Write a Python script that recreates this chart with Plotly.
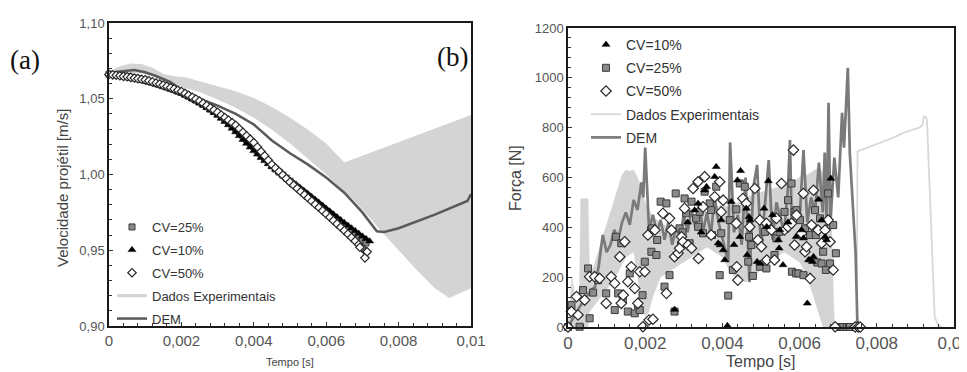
import plotly.graph_objects as go

# ================= (a) Velocity of projectile =================
t_grid_a = [round(i * 0.0001, 4) for i in range(72)]          # 0 .. 0.0071 s
t_grid_a10 = [round(i * 0.0001, 4) for i in range(73)]        # 0 .. 0.0072 s

vel_cv25 = [1.0662, 1.0660, 1.0657, 1.0654, 1.0650, 1.0646, 1.0642, 1.0637, 1.0632, 1.0627,
            1.0622, 1.0615, 1.0608, 1.0600, 1.0593, 1.0585, 1.0577, 1.0568, 1.0560, 1.0550,
            1.0541, 1.0529, 1.0517, 1.0504, 1.0491, 1.0478, 1.0463, 1.0448, 1.0432, 1.0416,
            1.0400, 1.0381, 1.0362, 1.0342, 1.0322, 1.0301, 1.0278, 1.0254, 1.0230, 1.0206,
            1.0182, 1.0156, 1.0131, 1.0106, 1.0082, 1.0058, 1.0037, 1.0016, 0.9996, 0.9976,
            0.9956, 0.9936, 0.9916, 0.9896, 0.9877, 0.9857, 0.9837, 0.9818, 0.9798, 0.9778,
            0.9758, 0.9738, 0.9718, 0.9698, 0.9678, 0.9659, 0.9640, 0.9621, 0.9602, 0.9583,
            0.9564, 0.9548]

vel_cv10 = [1.0663, 1.0661, 1.0658, 1.0655, 1.0651, 1.0647, 1.0643, 1.0638, 1.0633, 1.0627,
            1.0620, 1.0613, 1.0606, 1.0598, 1.0590, 1.0582, 1.0574, 1.0565, 1.0556, 1.0546,
            1.0536, 1.0524, 1.0512, 1.0499, 1.0486, 1.0472, 1.0457, 1.0441, 1.0425, 1.0408,
            1.0390, 1.0370, 1.0349, 1.0327, 1.0304, 1.0280, 1.0255, 1.0230, 1.0205, 1.0180,
            1.0156, 1.0133, 1.0111, 1.0090, 1.0070, 1.0051, 1.0033, 1.0015, 0.9997, 0.9979,
            0.9961, 0.9943, 0.9925, 0.9907, 0.9889, 0.9871, 0.9852, 0.9833, 0.9814, 0.9795,
            0.9776, 0.9757, 0.9738, 0.9719, 0.9700, 0.9682, 0.9664, 0.9646, 0.9628, 0.9610,
            0.9592, 0.9576, 0.9560]

vel_cv50 = [1.0660, 1.0658, 1.0655, 1.0652, 1.0648, 1.0645, 1.0641, 1.0637, 1.0633, 1.0629,
            1.0625, 1.0618, 1.0611, 1.0604, 1.0597, 1.0590, 1.0582, 1.0573, 1.0565, 1.0556,
            1.0548, 1.0535, 1.0523, 1.0510, 1.0498, 1.0485, 1.0470, 1.0455, 1.0440, 1.0425,
            1.0410, 1.0393, 1.0376, 1.0359, 1.0342, 1.0325, 1.0302, 1.0279, 1.0256, 1.0233,
            1.0210, 1.0181, 1.0152, 1.0123, 1.0094, 1.0065, 1.0042, 1.0019, 0.9996, 0.9973,
            0.9950, 0.9929, 0.9908, 0.9887, 0.9866, 0.9845, 0.9824, 0.9803, 0.9782, 0.9761,
            0.9740, 0.9718, 0.9696, 0.9674, 0.9652, 0.9630, 0.9607, 0.9584, 0.9561, 0.9538,
            0.9515, 0.9490]
t_cv50_end = [0.00693, 0.00707, 0.00713]
vel_cv50_end = [0.9520, 0.9450, 0.9490]

exp_a_up_t = [0.0, 0.0003, 0.0006, 0.0009, 0.0012, 0.0015, 0.0018, 0.0021, 0.0025, 0.0030,
              0.0035, 0.0040, 0.0045, 0.0050, 0.0055, 0.0060, 0.0065, 0.0100]
exp_a_up_v = [1.0680, 1.0715, 1.0732, 1.0730, 1.0705, 1.0665, 1.0648, 1.0642, 1.0615, 1.0585,
              1.0550, 1.0505, 1.0445, 1.0375, 1.0295, 1.0205, 1.0080, 1.0393]
exp_a_lo_t = [0.0, 0.0003, 0.0006, 0.0009, 0.0012, 0.0015, 0.0018, 0.0021, 0.0025, 0.0030,
              0.0035, 0.0040, 0.0045, 0.0050, 0.0055, 0.0060, 0.0065, 0.0070, 0.0075, 0.0080,
              0.0085, 0.0090, 0.0094, 0.0100]
exp_a_lo_v = [1.0640, 1.0660, 1.0670, 1.0668, 1.0650, 1.0610, 1.0590, 1.0570, 1.0545, 1.0495,
              1.0440, 1.0375, 1.0295, 1.0205, 1.0105, 1.0000, 0.9890, 0.9770, 0.9630, 0.9500,
              0.9370, 0.9250, 0.9185, 0.9250]

dem_a_t = [0.0, 0.0003, 0.0007, 0.0010, 0.0013, 0.0017, 0.0020, 0.0025, 0.0030, 0.0035,
           0.0040, 0.0045, 0.0050, 0.0055, 0.0060, 0.0065, 0.0070, 0.0074, 0.0076, 0.0080,
           0.0090, 0.0099, 0.0100]
dem_a_v = [1.0665, 1.0680, 1.0690, 1.0675, 1.0650, 1.0610, 1.0560, 1.0500, 1.0455, 1.0400,
           1.0330, 1.0225, 1.0140, 1.0065, 0.9980, 0.9880, 0.9750, 0.9625, 0.9620, 0.9645,
           0.9735, 0.9825, 0.9870]

# ================= (b) Force =================
cv10_ms = [2.76, 3.28, 3.37, 3.54, 3.59, 3.80, 3.84, 3.89, 3.94, 3.97, 4.02, 4.06, 4.13, 4.23,
           4.39, 4.45, 4.47, 4.62, 4.64, 4.69, 4.72, 4.90, 4.98, 5.08, 5.15, 5.19, 5.45, 5.47,
           5.49, 5.57, 5.91, 6.05, 6.10, 6.20, 6.23, 6.27, 6.33, 6.36, 6.49, 6.57, 6.66, 6.70,
           6.81, 3.10, 3.45, 4.30, 5.30, 5.70]
cv10_f = [70, 469, 496, 549, 563, 603, 643, 336, 329, 429, 309, 269, 5, 503,
          589, 362, 627, 476, 289, 442, 429, 262, 255, 476, 402, 586, 349, 316,
          389, 249, 362, 389, 356, 95, 269, 269, 262, 282, 512, 429, 362, 349,
          596, 420, 380, 330, 450, 420]

cv25_ms = [0.00, 0.30, 0.09, 0.39, 0.52, 0.56, 0.65, 0.78, 0.99, 1.21, 1.24, 1.30, 1.38, 1.42,
           1.55, 1.60, 1.73, 1.81, 1.86, 1.93, 1.99, 2.15, 2.16, 2.18, 2.29, 2.31, 2.40, 2.50,
           2.55, 2.63, 2.76, 2.79, 2.89, 2.93, 2.97, 3.02, 3.06, 3.15, 3.20, 3.32, 3.37, 3.41,
           3.50, 3.54, 3.67, 3.71, 3.73, 3.84, 3.93, 3.97, 4.15, 4.19, 4.27, 4.36, 4.45, 4.58,
           4.67, 4.69, 4.75, 4.79, 4.97, 5.10, 5.14, 5.35, 5.40, 5.48, 5.61, 5.70, 5.79, 5.80,
           5.87, 5.91, 5.92, 5.97, 6.01, 6.10, 6.14, 6.27, 6.40, 6.42, 6.46, 6.53, 6.57, 6.61,
           6.68, 6.74, 6.79, 6.87, 6.94, 7.05, 7.13, 7.22, 7.31, 7.52]
cv25_f = [0, 1, 88, 148, 235, 35, 138, 188, 135, 68, 362, 135, 336, 108,
          62, 215, 55, 88, 68, 128, 262, 389, 302, 396, 289, 349, 503, 162,
          496, 208, 62, 536, 396, 329, 380, 516, 456, 336, 503, 436, 402, 462,
          376, 543, 496, 469, 369, 563, 208, 376, 126, 429, 229, 472, 576, 563,
          262, 362, 329, 205, 242, 382, 235, 289, 356, 382, 462, 509, 576, 222,
          462, 215, 469, 215, 429, 208, 396, 369, 469, 369, 259, 436, 255, 302,
          229, 536, 255, 409, 296, 0, 0, 0, 0, 0]

cv50_ms = [0.00, 0.09, 0.22, 0.26, 0.43, 0.56, 0.69, 0.82, 0.99, 1.12, 1.21, 1.34, 1.38, 1.43,
           1.47, 1.55, 1.64, 1.73, 1.81, 1.86, 1.94, 1.99, 2.07, 2.10, 2.20, 2.25, 2.46, 2.55,
           2.63, 2.68, 2.76, 2.85, 2.89, 2.94, 2.98, 3.02, 3.11, 3.20, 3.24, 3.37, 3.38, 3.50,
           3.54, 3.71, 3.80, 3.93, 3.97, 4.02, 4.36, 4.37, 4.40, 4.53, 4.62, 4.71, 4.84, 4.92,
           4.97, 5.01, 5.14, 5.15, 5.27, 5.35, 5.40, 5.53, 5.61, 5.70, 5.79, 5.84, 5.87, 5.92,
           6.05, 6.10, 6.14, 6.18, 6.27, 6.31, 6.36, 6.48, 6.57, 6.66, 6.74, 6.79, 6.87, 6.92,
           7.44, 7.52, 7.57]
cv50_f = [0, 62, 122, 48, 108, 202, 202, 195, 95, 202, 175, 282, 95, 128,
          342, 182, 242, 155, 95, 222, 1, 222, 369, 28, 31, 389, 456, 135,
          436, 389, 282, 296, 316, 362, 342, 476, 329, 316, 556, 583, 275, 482,
          603, 369, 523, 583, 462, 509, 416, 242, 188, 516, 496, 402, 556, 349,
          429, 322, 416, 269, 389, 269, 436, 576, 389, 402, 416, 710, 329, 449,
          376, 536, 302, 322, 195, 409, 549, 389, 336, 389, 429, 342, 229, 1,
          0, 0, 0]

exp_b_up_t = [0.0, 0.0001, 0.0002, 0.0003, 0.00033, 0.00052, 0.00056, 0.0007, 0.0009, 0.0011,
              0.0013, 0.0014, 0.0015, 0.0016, 0.0017, 0.0018, 0.0019, 0.0020, 0.0022, 0.0024,
              0.0026, 0.0028, 0.0030, 0.0032, 0.0034, 0.0036, 0.0038, 0.0040, 0.0042, 0.0044,
              0.0046, 0.0048, 0.0050, 0.0052, 0.0054, 0.0056, 0.0058, 0.0060, 0.0062, 0.0064,
              0.0065, 0.0066, 0.0067, 0.0068, 0.0069]
exp_b_up_v = [0, 200, 100, 160, 515, 515, 200, 260, 360, 460,
              560, 610, 630, 625, 630, 600, 560, 500, 440, 420,
              400, 390, 420, 430, 450, 470, 480, 490, 480, 500,
              520, 530, 540, 550, 560, 570, 580, 600, 610, 630,
              640, 620, 600, 560, 0]
exp_b_lo_t = [0.0, 0.0003, 0.00033, 0.00052, 0.00056, 0.0007, 0.0009, 0.0011, 0.0013, 0.0015,
              0.0017, 0.0018, 0.0019, 0.0020, 0.0021, 0.0022, 0.0024, 0.0026, 0.0028, 0.0030,
              0.0032, 0.0034, 0.0036, 0.0038, 0.0040, 0.0042, 0.0044, 0.0046, 0.0048, 0.0050,
              0.0052, 0.0054, 0.0056, 0.0058, 0.0060, 0.0062, 0.0064, 0.0065, 0.0066, 0.0069]
exp_b_lo_v = [0, 0, 0, 0, 60, 90, 130, 170, 220, 280,
              300, 200, 80, 40, 60, 120, 200, 220, 240, 260,
              280, 300, 320, 300, 280, 220, 190, 180, 200, 230,
              260, 280, 300, 280, 260, 200, 100, 40, 0, 0]

exp_b_late_t = [0.0069, 0.00748, 0.00750, 0.0078, 0.0080, 0.0083, 0.0085, 0.0087, 0.0089,
                0.0091, 0.00918, 0.00922, 0.00928, 0.0093, 0.0095, 0.0096, 0.0097]
exp_b_late_v = [0, 0, 705, 722, 735, 752, 765, 780, 790, 800, 810, 845, 840, 830, 40, 5, 0]

dem_b_t = [0.0, 0.0003, 0.0006, 0.0007, 0.0008, 0.0009, 0.0010, 0.0011, 0.0012, 0.0013,
           0.0014, 0.0015, 0.0016, 0.0017, 0.0018, 0.0019, 0.00195, 0.0020, 0.0021, 0.0022,
           0.0023, 0.0024, 0.0025, 0.0026, 0.0027, 0.0028, 0.0029, 0.0030, 0.0031, 0.0032,
           0.0033, 0.0034, 0.0035, 0.0036, 0.0037, 0.0038, 0.0039, 0.0040, 0.0041, 0.00415,
           0.0042, 0.0043, 0.0044, 0.0045, 0.0046, 0.0047, 0.0048, 0.0049, 0.0050, 0.0051,
           0.0052, 0.0053, 0.0054, 0.0055, 0.0056, 0.0057, 0.00575, 0.0058, 0.0059, 0.0060,
           0.0061, 0.0062, 0.0063, 0.0064, 0.0065, 0.0066, 0.00665, 0.0067, 0.00675, 0.0068,
           0.0069, 0.0070, 0.0071, 0.00715, 0.00725, 0.0073, 0.00745, 0.0075, 0.0076]
dem_b_v = [0, 80, 150, 160, 250, 370, 300, 330, 390, 350,
           420, 460, 410, 510, 470, 580, 520, 720, 390, 450,
           380, 430, 350, 420, 330, 400, 360, 450, 380, 470,
           400, 500, 380, 460, 370, 520, 420, 360, 300, 260,
           740, 380, 450, 330, 600, 180, 560, 650, 300, 470,
           670, 350, 500, 440, 380, 560, 750, 400, 480, 430,
           710, 420, 520, 460, 660, 460, 700, 400, 900, 420,
           680, 520, 860, 720, 1040, 700, 300, 0, 0]

# tick labels
xa_vals = [0, 0.002, 0.004, 0.006, 0.008, 0.01]
xa_text = ["0", "0,002", "0,004", "0,006", "0,008", "0,01"]
ya_vals = [0.90, 0.95, 1.00, 1.05, 1.10]
ya_text = ["0,90", "0,95", "1,00", "1,05", "1,10"]
yb_vals = [0, 200, 400, 600, 800, 1000, 1200]
yb_text = ["0", "200", "400", "600", "800", "1000", "1200"]

FONT = "Liberation Sans"
EXP_C = "#d4d4d4"
SQ = dict(symbol="square", color="#8a8a8a", line=dict(color="#3a3a3a", width=1))
TR = dict(symbol="triangle-up", color="#000000", line=dict(color="#000000", width=0.5))
DI = dict(symbol="diamond", color="#ffffff", line=dict(color="#2a2a2a", width=1.2))

fig = go.Figure()

# ---- (a) ----
fig.add_trace(go.Scatter(x=exp_a_lo_t, y=exp_a_lo_v, mode="lines", line=dict(width=0, color=EXP_C),
                         showlegend=False, hoverinfo="skip", xaxis="x", yaxis="y"))
fig.add_trace(go.Scatter(x=exp_a_up_t, y=exp_a_up_v, mode="lines", line=dict(width=0, color=EXP_C),
                         fill="tonexty", fillcolor=EXP_C, showlegend=False, hoverinfo="skip",
                         xaxis="x", yaxis="y"))
fig.add_trace(go.Scatter(x=[None], y=[None], mode="lines", name="Dados Experimentais",
                         line=dict(color=EXP_C, width=3), legend="legend", legendgroup="a4",
                         legendrank=4, xaxis="x", yaxis="y"))
fig.add_trace(go.Scatter(x=dem_a_t, y=dem_a_v, mode="lines", name="DEM",
                         line=dict(color="#5a5a5a", width=2.5), legend="legend", legendgroup="a5",
                         legendrank=5, xaxis="x", yaxis="y"))
fig.add_trace(go.Scatter(x=t_grid_a, y=vel_cv25, mode="markers", name="CV=25%",
                         marker=dict(size=6, **SQ), legend="legend", legendgroup="a1",
                         legendrank=1, cliponaxis=False, xaxis="x", yaxis="y"))
fig.add_trace(go.Scatter(x=t_grid_a10, y=vel_cv10, mode="markers", name="CV=10%",
                         marker=dict(size=7, **TR), legend="legend", legendgroup="a2",
                         legendrank=2, cliponaxis=False, xaxis="x", yaxis="y"))
fig.add_trace(go.Scatter(x=t_grid_a + t_cv50_end, y=vel_cv50 + vel_cv50_end, mode="markers",
                         name="CV=50%", marker=dict(size=6.5, **DI), legend="legend",
                         legendgroup="a3", legendrank=3, cliponaxis=False, xaxis="x", yaxis="y"))

# ---- (b) ----
fig.add_trace(go.Scatter(x=exp_b_lo_t, y=exp_b_lo_v, mode="lines", line=dict(width=0, color=EXP_C),
                         showlegend=False, hoverinfo="skip", xaxis="x2", yaxis="y2"))
fig.add_trace(go.Scatter(x=exp_b_up_t, y=exp_b_up_v, mode="lines", line=dict(width=0.5, color=EXP_C),
                         fill="tonexty", fillcolor=EXP_C, showlegend=False, hoverinfo="skip",
                         xaxis="x2", yaxis="y2"))
fig.add_trace(go.Scatter(x=exp_b_late_t, y=exp_b_late_v, mode="lines", name="Dados Experimentais",
                         line=dict(color="#d8d8d8", width=1.8), legend="legend2", legendgroup="b4",
                         legendrank=4, xaxis="x2", yaxis="y2"))
fig.add_trace(go.Scatter(x=dem_b_t, y=dem_b_v, mode="lines", name="DEM",
                         line=dict(color="#7a7a7a", width=2.7), legend="legend2", legendgroup="b5",
                         legendrank=5, xaxis="x2", yaxis="y2"))
fig.add_trace(go.Scatter(x=[t / 1000 for t in cv25_ms], y=cv25_f, mode="markers", name="CV=25%",
                         marker=dict(size=7, **SQ), legend="legend2", legendgroup="b2",
                         legendrank=2, cliponaxis=False, xaxis="x2", yaxis="y2"))
fig.add_trace(go.Scatter(x=[t / 1000 for t in cv50_ms], y=cv50_f, mode="markers", name="CV=50%",
                         marker=dict(size=8, **DI), legend="legend2", legendgroup="b3",
                         legendrank=3, cliponaxis=False, xaxis="x2", yaxis="y2"))
fig.add_trace(go.Scatter(x=[t / 1000 for t in cv10_ms], y=cv10_f, mode="markers", name="CV=10%",
                         marker=dict(size=7, **TR), legend="legend2", legendgroup="b1",
                         legendrank=1, cliponaxis=False, xaxis="x2", yaxis="y2"))

# The page body has an 8 px margin, so the figure is 8 px smaller and offset.
OFF = 8
W, H = 967 - OFF, 372 - OFF
def px_x(p): return (p - OFF) / W
def px_y(p): return 1 - (p - OFF) / H

def axis_style(size):
    return dict(showline=True, linecolor="#1a1a1a", linewidth=1.5, mirror=True,
                ticks="inside", ticklen=4, tickcolor="#333", showgrid=False, zeroline=False,
                automargin=False, ticklabeloverflow="allow",
                tickfont=dict(family=FONT, color="#555", size=size))

fig.update_layout(
    template="none",
    width=W, height=H, margin=dict(l=0, r=0, t=0, b=0, pad=0, autoexpand=False),
    paper_bgcolor="white", plot_bgcolor="white",
    xaxis=dict(domain=[px_x(109), px_x(471)], range=[0, 0.01], anchor="y",
               tickvals=xa_vals, ticktext=xa_text,
               minor=dict(ticks="inside", ticklen=3, dtick=0.0004, tickcolor="#333"),
               **axis_style(15)),
    yaxis=dict(domain=[px_y(326), px_y(23)], range=[0.9, 1.1], anchor="x",
               tickvals=ya_vals, ticktext=ya_text,
               minor=dict(ticks="inside", ticklen=3, dtick=0.01, tickcolor="#333"),
               **axis_style(13)),
    xaxis2=dict(domain=[px_x(568), px_x(954)], range=[0, 0.01], anchor="y2",
                tickvals=xa_vals, ticktext=xa_text,
                minor=dict(ticks="inside", ticklen=3, dtick=0.0004, tickcolor="#333"),
                **axis_style(17)),
    yaxis2=dict(domain=[px_y(327), px_y(28)], range=[0, 1200], anchor="x2",
                tickvals=yb_vals, ticktext=yb_text,
                minor=dict(ticks="inside", ticklen=3, dtick=40, tickcolor="#333"),
                **axis_style(13)),
    legend=dict(x=px_x(112), y=px_y(212), xanchor="left", yanchor="top",
                bgcolor="rgba(0,0,0,0)", borderwidth=0, traceorder="grouped",
                tracegroupgap=3, font=dict(family=FONT, size=13, color="#333")),
    legend2=dict(x=px_x(586), y=px_y(29), xanchor="left", yanchor="top",
                 bgcolor="rgba(0,0,0,0)", borderwidth=0, traceorder="grouped",
                 tracegroupgap=2, font=dict(family=FONT, size=14, color="#333")),
    showlegend=True,
)

ann = [
    dict(text="(a)", x=px_x(25), y=px_y(60), font=dict(family="Liberation Serif", size=27, color="#111")),
    dict(text="(b)", x=px_x(452), y=px_y(57), font=dict(family="Liberation Serif", size=27, color="#111")),
    dict(text="Tempo [s]", x=px_x(290), y=px_y(362), font=dict(family=FONT, size=11, color="#444")),
    dict(text="Tempo [s]", x=px_x(760), y=px_y(361), font=dict(family=FONT, size=16, color="#444")),
    dict(text="Velocidade projétil [m/s]", x=px_x(62), y=px_y(188), textangle=-90,
         font=dict(family=FONT, size=15, color="#444")),
    dict(text="Força [N]", x=px_x(515), y=px_y(178), textangle=-90,
         font=dict(family=FONT, size=16, color="#444")),
]
for a in ann:
    fig.add_annotation(xref="paper", yref="paper", showarrow=False, xanchor="center",
                       yanchor="middle", **a)

fig.write_html("out.html")
